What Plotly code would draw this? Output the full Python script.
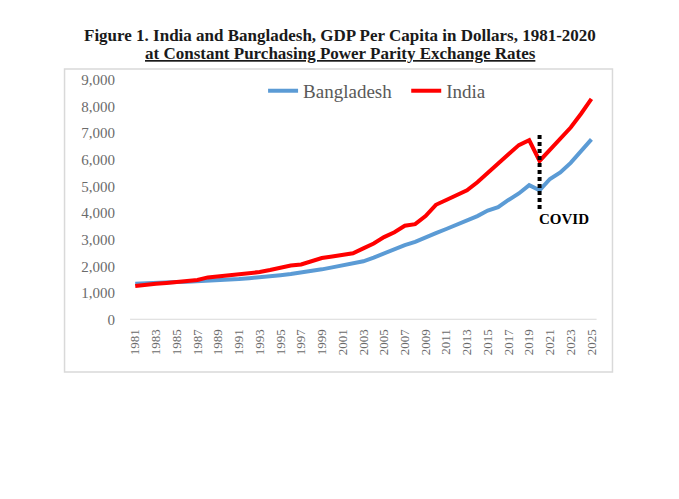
import plotly.graph_objects as go

years = list(range(1981, 2026))
bangladesh = [1343, 1370, 1395, 1405, 1415, 1425, 1440, 1455, 1470, 1495,
              1524, 1555, 1585, 1625, 1670, 1715, 1766, 1825, 1887, 1960,
              2033, 2100, 2190, 2330, 2492, 2640, 2795, 2916, 3097, 3243,
              3400, 3550, 3702, 3884, 4090, 4220, 4489, 4731, 5045, 4850,
              5275, 5517, 5880, 6305, 6760]
india = [1260, 1283, 1343, 1379, 1403, 1463, 1488, 1585, 1622, 1670,
         1680, 1718, 1786, 1862, 1946, 2033, 2069, 2190, 2311, 2370,
         2430, 2492, 2674, 2855, 3097, 3279, 3520, 3581, 3884, 4307,
         4489, 4670, 4851, 5154, 5517, 5880, 6200, 6545, 6727, 5950,
         6365, 6788, 7205, 7720, 8276]
covid_x = [2020, 2020]
covid_y = [4150, 6950]
tick_years = list(range(1981, 2026, 2))
y_ticks = list(range(0, 9001, 1000))

W, H = 679, 499
# plot area in pixels
px0, px1 = 128, 598
py_top, py_bot = 74, 322

serif = "Liberation Serif, Times New Roman, serif"

fig = go.Figure()
fig.add_trace(go.Scatter(x=years, y=bangladesh, mode="lines", name="Bangladesh  ",
                         line=dict(color="#5B9BD5", width=4)))
fig.add_trace(go.Scatter(x=years, y=india, mode="lines", name="India",
                         line=dict(color="#FF0000", width=4)))
fig.add_trace(go.Scatter(x=covid_x, y=covid_y, mode="lines", showlegend=False,
                         line=dict(color="black", width=4, dash="4px,3px")))

fig.update_layout(
    width=W, height=H,
    margin=dict(l=0, r=0, t=0, b=0),
    paper_bgcolor="white", plot_bgcolor="white",
    showlegend=True,
    legend=dict(orientation="h", x=262 / W, y=1 - 66 / H, xanchor="left", yanchor="top",
                font=dict(family=serif, size=19, color="#595959"),
                bgcolor="rgba(0,0,0,0)", itemwidth=30, tracegroupgap=0),
    xaxis=dict(domain=[px0 / W, px1 / W], range=[1980.5, 2025.5],
               tickmode="array", tickvals=tick_years, ticktext=[str(y) for y in tick_years],
               tickangle=-90, tickfont=dict(family=serif, size=13, color="#6b6b6b"),
               showgrid=False, zeroline=False, showline=False, ticks="",
               ticklabelstandoff=6),
    yaxis=dict(domain=[1 - py_bot / H, 1 - py_top / H], range=[0, 9000],
               tickmode="array", tickvals=y_ticks, tickformat=",d",
               tickfont=dict(family=serif, size=15, color="#6b6b6b"),
               showgrid=False, zeroline=False, showline=False, ticks="",
               ticklabelstandoff=14),
    shapes=[
        dict(type="rect", xref="paper", yref="paper",
             x0=62 / W, x1=614 / W, y0=1 - 376 / H, y1=1 - 63 / H,
             line=dict(color="#d9d9d9", width=1.5), fillcolor="rgba(0,0,0,0)", layer="below"),
        dict(type="line", xref="paper", yref="y",
             x0=px0 / W, x1=px1 / W, y0=0, y1=0,
             line=dict(color="#d9d9d9", width=2), layer="below"),
    ],
    annotations=[
        dict(text="<b>Figure 1. India and Bangladesh, GDP Per Capita in Dollars, 1981-2020</b>",
             xref="paper", yref="paper", x=340 / W, y=1 - 28 / H, xanchor="center", yanchor="middle",
             showarrow=False, font=dict(family=serif, size=17, color="#1a1a1a")),
        dict(text="<b><u>at Constant Purchasing Power Parity Exchange Rates</u></b>",
             xref="paper", yref="paper", x=340 / W, y=1 - 47 / H, xanchor="center", yanchor="middle",
             showarrow=False, font=dict(family=serif, size=17, color="#1a1a1a")),
        dict(text="<b>COVID</b>", x=2022.4, y=3780, xref="x", yref="y",
             showarrow=False, font=dict(family=serif, size=15, color="black")),
    ],
)

fig.write_html("out.html")
